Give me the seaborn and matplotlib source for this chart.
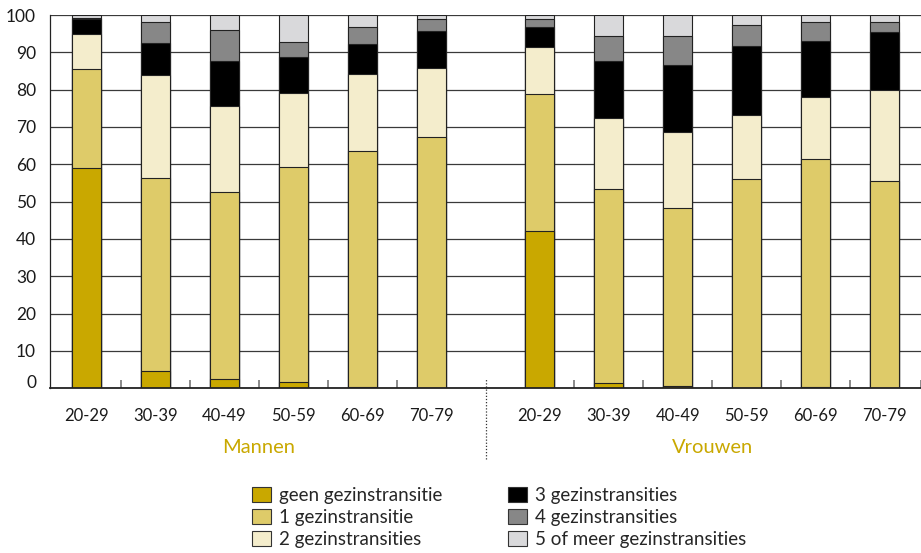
import pandas as pd
import seaborn as sns
import matplotlib.pyplot as plt
from matplotlib.patches import Patch
from matplotlib.transforms import ScaledTranslation, blended_transform_factory

# %%
# Data: percentages per age group (Mannen 20-29..70-79, then Vrouwen 20-29..70-79)

age_groups = ['20-29', '30-39', '40-49', '50-59', '60-69', '70-79']
groups = ['Mannen', 'Vrouwen']

geen = [58.9, 4.7, 2.4, 1.7, 0.3, 0.0, 42.1, 1.3, 0.7, 0.0, 0.3, 0.0]
een = [26.7, 51.7, 50.2, 57.7, 63.3, 67.2, 36.7, 52.0, 47.6, 56.1, 61.2, 55.5]
twee = [9.4, 27.5, 23.1, 19.6, 20.6, 18.6, 12.7, 19.0, 20.4, 17.0, 16.6, 24.5]
drie = [3.8, 8.5, 11.9, 9.7, 8.0, 9.8, 5.3, 15.5, 18.0, 18.6, 15.0, 15.5]
vier = [0.3, 5.7, 8.5, 4.1, 4.6, 3.4, 2.2, 6.6, 7.7, 5.7, 5.1, 2.5]
vijf = [1.0, 1.9, 3.9, 7.2, 3.2, 1.0, 1.0, 5.6, 5.6, 2.6, 1.8, 2.0]

series_labels = ['geen gezinstransitie', '1 gezinstransitie', '2 gezinstransities',
                 '3 gezinstransities', '4 gezinstransities', '5 of meer gezinstransities']
series_colors = ['#C9A800', '#DECB69', '#F4EDCC', '#000000', '#878787', '#D9D9DB']

# %%
# Positions: gap between the two groups

gap = 1.578
positions = [i for i in range(6)] + [5 + gap + i for i in range(6)]

df = pd.DataFrame({
    'pos': positions,
    'geen': geen, 'een': een, 'twee': twee,
    'drie': drie, 'vier': vier, 'vijf': vijf,
})
cols = ['geen', 'een', 'twee', 'drie', 'vier', 'vijf']
cum = df[cols].cumsum(axis=1)

# %%

sns.set_theme(style="white")
plt.rcParams['font.family'] = ['Lato', 'DejaVu Sans']

fig = plt.figure(figsize=(9.21, 5.53), dpi=100)
ax = fig.add_axes([50 / 921, 1 - 388.3 / 553, 871 / 921, 373.3 / 553])

# stacked bars: draw cumulative totals from the top layer down
for col, color in reversed(list(zip(cols, series_colors))):
    sns.barplot(x=df['pos'], y=cum[col], native_scale=True, width=0.42,
                color=color, saturation=1, edgecolor='#222222', linewidth=0.8,
                errorbar=None, ax=ax)

ax.set_xlim(-0.533, positions[-1] + 0.533)
ax.set_ylim(0, 100)
ax.set_yticks(range(0, 101, 10))
ax.set_xticks(positions)
ax.set_xticklabels(age_groups * 2)
minor = [i + 0.5 for i in range(5)] + [5 + gap + i + 0.5 for i in range(5)] + [positions[-1] + 0.53]
ax.set_xticks(minor, minor=True)
ax.set_xlabel('')
ax.set_ylabel('')

ax.yaxis.grid(True, color='#3a3a3a', linewidth=0.9)
ax.set_axisbelow(True)
for side in ['top', 'right']:
    ax.spines[side].set_visible(False)
ax.spines['left'].set_color('#222222')
ax.spines['left'].set_linewidth(0.9)
ax.spines['bottom'].set_color('#222222')
ax.spines['bottom'].set_linewidth(1.3)

ax.tick_params(axis='y', length=0, pad=10, labelsize=12.5, labelcolor='#1a1a1a')
ax.tick_params(axis='x', which='major', length=0, pad=14, labelsize=12, labelcolor='#1a1a1a')
ax.tick_params(axis='x', which='minor', direction='in', length=6, width=1.2,
               color='#777777', bottom=True)

# lift the "0" label a little, as in the original
lbl0 = ax.get_yticklabels()[0]
lbl0.set_transform(lbl0.get_transform() + ScaledTranslation(0, 0.07, fig.dpi_scale_trans))

# dotted separator between the groups
sep = 5 + gap / 2
ax.axvline(sep, ymin=-0.19, ymax=0.025, color='#333333', linestyle=(0, (1, 1.5)),
           linewidth=0.9, clip_on=False)

# group labels
trans = blended_transform_factory(ax.transData, ax.transAxes)
ax.text((positions[0] + positions[5]) / 2, -0.158, groups[0], transform=trans,
        ha='center', va='center', fontsize=14.5, color='#C9A800')
ax.text((positions[6] + positions[11]) / 2, -0.158, groups[1], transform=trans,
        ha='center', va='center', fontsize=14.5, color='#C9A800')

handles = [Patch(facecolor=c, edgecolor='#333333', linewidth=0.8) for c in series_colors]
fig.legend(handles, series_labels, ncol=2, loc='upper left',
           bbox_to_anchor=(252 / 921, 1 - 487 / 553), frameon=False,
           fontsize=13.5, handlelength=1.0, handleheight=0.85, handletextpad=0.45,
           columnspacing=3.5, labelspacing=0.27, borderpad=0, borderaxespad=0)

plt.savefig('out.png', dpi=100)
